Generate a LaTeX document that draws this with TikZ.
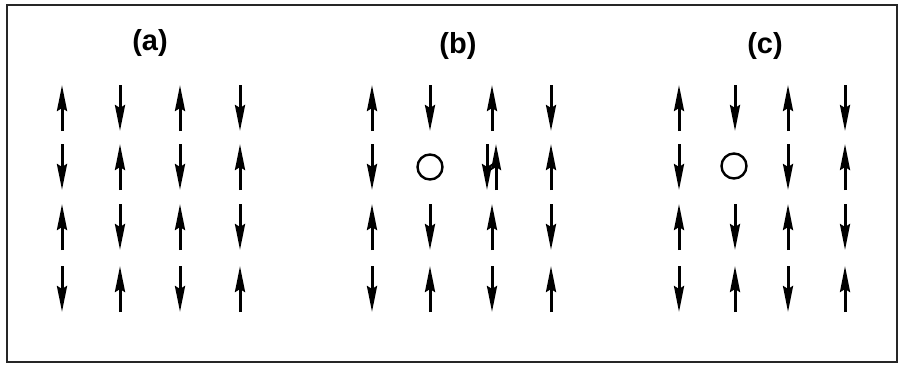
\documentclass[tikz,border=0pt]{standalone}
\usepackage{fontspec}
\setmainfont{Liberation Sans}
\usetikzlibrary{arrows.meta}
\begin{document}
\begin{tikzpicture}[x=1pt,y=-1pt,
  spin/.style={line width=3pt,-{Stealth[length=26pt,width=10pt,inset=3pt]}},
  panellabel/.style={font=\bfseries\fontsize{29}{31}\selectfont,inner sep=0pt},
  vacancy/.style={circle,draw,line width=2.4pt,minimum size=25pt,inner sep=0pt}]
  \useasboundingbox (0,0) rectangle (901,367);
  % outer frame
  \draw[line width=2.5pt,black!85] (7,5) rectangle (897,362);

  % panel labels
  \node[panellabel] (la) at (150,43) {(a)};
  \node[panellabel] (lb) at (458,46) {(b)};
  \node[panellabel] (lc) at (765,46) {(c)};

  % half length of a spin arrow
  \def\halflen{23}
  % \spinarrow{x}{y}{u|d}{name}: u = up spin, d = down spin
  \newcommand\spinarrow[4]{%
    \coordinate (#4-lo) at (#1,#2+\halflen);
    \coordinate (#4-hi) at (#1,#2-\halflen);
    \if#3u\draw[spin] (#4-lo) -- (#4-hi);\else\draw[spin] (#4-hi) -- (#4-lo);\fi}

  % panel (a): perfect antiferromagnetic order
  \foreach \x/\y/\s [count=\i] in {
     62/108/u,120/108/d,180/108/u,240/108/d,
     62/167/d,120/167/u,180/167/d,240/167/u,
     62/227/u,120/227/d,180/227/u,240/227/d,
     62/289/d,120/289/u,180/289/d,240/289/u}
    {\spinarrow{\x}{\y}{\s}{a\i}}

  % panel (b): hole with the displaced spin sharing a site
  \foreach \x/\y/\s [count=\i] in {
     372/108/u,430/108/d,492/108/u,551/108/d,
     372/167/d,487/167/d,496/167/u,551/167/u,
     372/227/u,430/227/d,492/227/u,551/227/d,
     372/289/d,430/289/u,492/289/d,551/289/u}
    {\spinarrow{\x}{\y}{\s}{b\i}}
  \node[vacancy] (holeb) at (430,167) {};

  % panel (c): hole after the spin has flipped
  \foreach \x/\y/\s [count=\i] in {
     679/108/u,735/108/d,788/108/u,845/108/d,
     679/167/d,788/167/d,845/167/u,
     679/227/u,735/227/d,788/227/u,845/227/d,
     679/289/d,735/289/u,788/289/d,845/289/u}
    {\spinarrow{\x}{\y}{\s}{c\i}}
  \node[vacancy] (holec) at (734,166) {};
\end{tikzpicture}
\end{document}
